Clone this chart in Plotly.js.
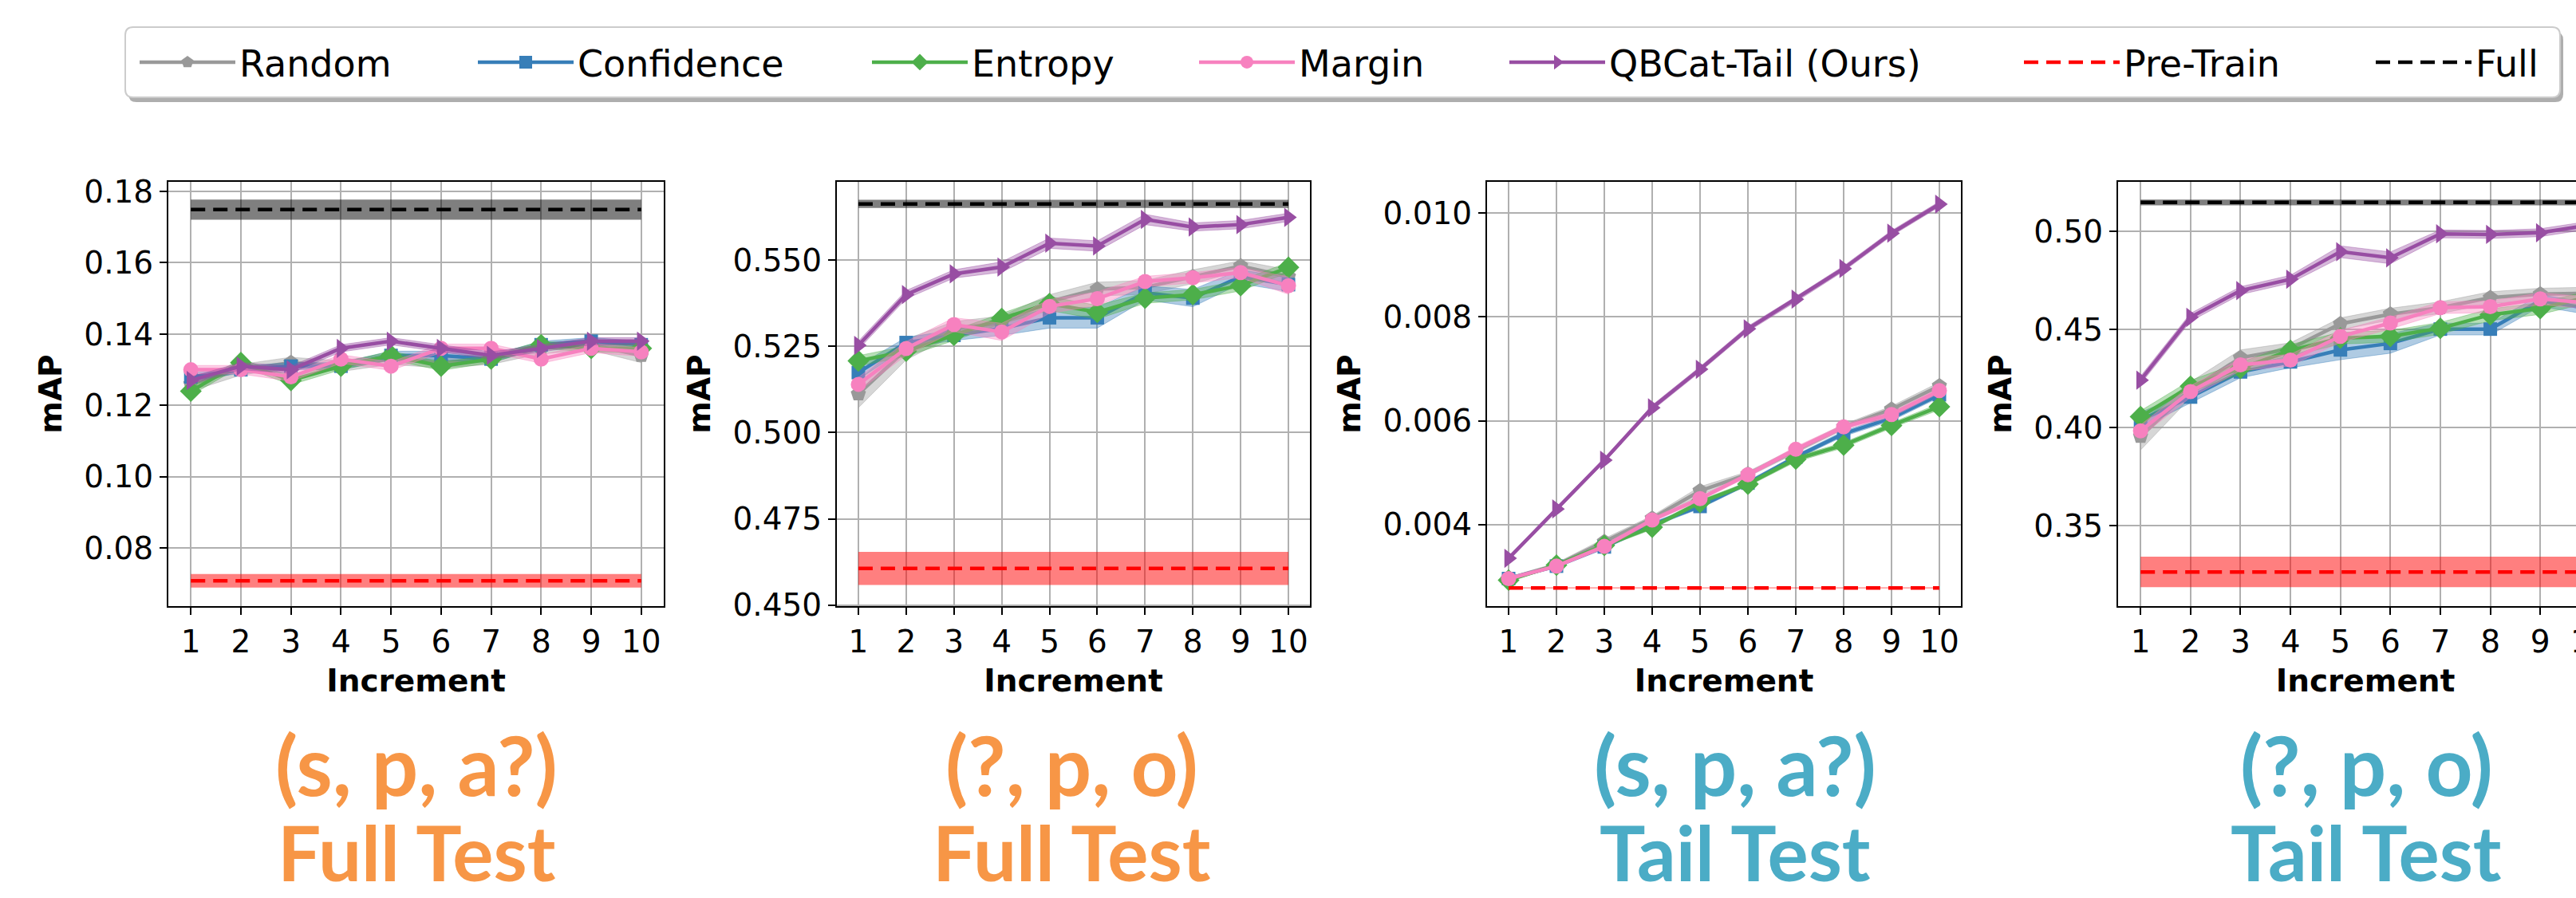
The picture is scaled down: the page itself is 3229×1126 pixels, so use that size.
<!DOCTYPE html>
<html>
<head>
<meta charset="utf-8">
<script src="https://cdn.plot.ly/plotly-3.0.1.min.js"></script>
<style>
html,body{margin:0;padding:0;overflow:hidden;background:#ffffff;}
#chart{width:3300px;height:1126px;}
</style>
</head>
<body>
<div id="chart"></div>
<script>
// ---------------- DATA ----------------
const increments = [1, 2, 3, 4, 5, 6, 7, 8, 9, 10];
const methodNames = ['Random', 'Confidence', 'Entropy', 'Margin', 'QBCat-Tail (Ours)'];
const panelTopLabels = ['(s, p, a?)', '(?, p, o)', '(s, p, a?)', '(?, p, o)'];
const panelBottomLabels = ['Full Test', 'Full Test', 'Tail Test', 'Tail Test'];

// Panel 1: (s, p, a?) Full Test
const p1Random     = [0.126, 0.130, 0.132, 0.131, 0.133, 0.132, 0.133, 0.136, 0.137, 0.134];
const p1Confidence = [0.128, 0.130, 0.131, 0.131, 0.134, 0.134, 0.133, 0.137, 0.138, 0.137];
const p1Entropy    = [0.124, 0.132, 0.127, 0.131, 0.134, 0.131, 0.133, 0.137, 0.136, 0.136];
const p1Margin     = [0.130, 0.130, 0.128, 0.133, 0.131, 0.136, 0.136, 0.133, 0.136, 0.135];
const p1QBCat      = [0.127, 0.131, 0.130, 0.136, 0.138, 0.136, 0.134, 0.136, 0.138, 0.138];
const p1RandomStd     = [0.002, 0.0015, 0.0015, 0.0015, 0.0015, 0.0015, 0.0015, 0.0015, 0.0015, 0.002];
const p1ConfidenceStd = [0.001, 0.001, 0.001, 0.001, 0.0012, 0.0012, 0.001, 0.001, 0.001, 0.001];
const p1EntropyStd    = [0.0012, 0.001, 0.0012, 0.001, 0.0012, 0.0012, 0.001, 0.001, 0.001, 0.0012];
const p1MarginStd     = [0.0012, 0.0012, 0.0012, 0.0012, 0.0012, 0.0012, 0.0012, 0.0012, 0.0012, 0.0012];
const p1QBCatStd      = [0.001, 0.001, 0.001, 0.001, 0.001, 0.001, 0.001, 0.001, 0.001, 0.001];

// Panel 2: (?, p, o) Full Test
const p2Random     = [0.5112, 0.5241, 0.5302, 0.5318, 0.5380, 0.5416, 0.5421, 0.5452, 0.5483, 0.5452];
const p2Confidence = [0.5174, 0.5261, 0.5282, 0.5302, 0.5333, 0.5333, 0.5405, 0.5390, 0.5452, 0.5429];
const p2Entropy    = [0.5208, 0.5236, 0.5282, 0.5331, 0.5374, 0.5349, 0.5390, 0.5400, 0.5426, 0.5479];
const p2Margin     = [0.5140, 0.5244, 0.5313, 0.5292, 0.5366, 0.5388, 0.5438, 0.5449, 0.5464, 0.5426];
const p2QBCat      = [0.5253, 0.5400, 0.5460, 0.5480, 0.5549, 0.5541, 0.5618, 0.5596, 0.5603, 0.5624];
const p2RandomStd     = [0.004, 0.003, 0.002, 0.002, 0.002, 0.002, 0.002, 0.002, 0.0015, 0.002];
const p2ConfidenceStd = [0.002, 0.0015, 0.0015, 0.002, 0.003, 0.003, 0.002, 0.0025, 0.002, 0.002];
const p2EntropyStd    = [0.0015, 0.0015, 0.0015, 0.0015, 0.002, 0.002, 0.0015, 0.0015, 0.0015, 0.0015];
const p2MarginStd     = [0.002, 0.002, 0.002, 0.0025, 0.002, 0.002, 0.0015, 0.0015, 0.0015, 0.0025];
const p2QBCatStd      = [0.0012, 0.0012, 0.0012, 0.0015, 0.0015, 0.0015, 0.0015, 0.0012, 0.0012, 0.0012];

// Panel 3: (s, p, a?) Tail Test
const p3Random     = [0.00296, 0.00322, 0.00367, 0.00412, 0.00465, 0.00497, 0.00543, 0.00588, 0.00622, 0.00667];
const p3Confidence = [0.00296, 0.00320, 0.00357, 0.00400, 0.00435, 0.00480, 0.00530, 0.00575, 0.00605, 0.00650];
const p3Entropy    = [0.00293, 0.00322, 0.00360, 0.00395, 0.00443, 0.00478, 0.00526, 0.00553, 0.00591, 0.00627];
const p3Margin     = [0.00296, 0.00320, 0.00358, 0.00409, 0.00450, 0.00496, 0.00545, 0.00588, 0.00612, 0.00658];
const p3QBCat      = [0.00335, 0.00430, 0.00524, 0.00625, 0.00699, 0.00777, 0.00834, 0.00893, 0.00961, 0.01017];
const p3RandomStd     = [0.00003, 0.00004, 0.00006, 0.00005, 0.00008, 0.00005, 0.00005, 0.00005, 0.00006, 0.00007];
const p3ConfidenceStd = [0.00003, 0.00003, 0.00004, 0.00004, 0.00004, 0.00004, 0.00004, 0.00005, 0.00005, 0.00005];
const p3EntropyStd    = [0.00003, 0.00003, 0.00004, 0.00004, 0.00004, 0.00004, 0.00005, 0.00005, 0.00005, 0.00006];
const p3MarginStd     = [0.00003, 0.00003, 0.00004, 0.00004, 0.00004, 0.00004, 0.00005, 0.00005, 0.00005, 0.00005];
const p3QBCatStd      = [0.00003, 0.00004, 0.00004, 0.00005, 0.00005, 0.00005, 0.00005, 0.00005, 0.00005, 0.00005];

// Panel 4: (?, p, o) Tail Test
const p4Random     = [0.3956, 0.4193, 0.4356, 0.4402, 0.4529, 0.4578, 0.4611, 0.4662, 0.4680, 0.4685];
const p4Confidence = [0.4038, 0.4156, 0.4284, 0.4335, 0.4396, 0.4429, 0.4502, 0.4502, 0.4647, 0.4605];
const p4Entropy    = [0.4056, 0.4211, 0.4302, 0.4393, 0.4456, 0.4465, 0.4506, 0.4575, 0.4607, 0.4668];
const p4Margin     = [0.3984, 0.4184, 0.4320, 0.4344, 0.4465, 0.4533, 0.4611, 0.4616, 0.4656, 0.4635];
const p4QBCat      = [0.4242, 0.4562, 0.4698, 0.4756, 0.4896, 0.4865, 0.4987, 0.4984, 0.4993, 0.5032];
const p4RandomStd     = [0.007, 0.004, 0.004, 0.003, 0.003, 0.003, 0.003, 0.003, 0.003, 0.003];
const p4ConfidenceStd = [0.004, 0.003, 0.003, 0.003, 0.005, 0.005, 0.003, 0.003, 0.003, 0.003];
const p4EntropyStd    = [0.003, 0.003, 0.003, 0.003, 0.003, 0.003, 0.003, 0.003, 0.003, 0.003];
const p4MarginStd     = [0.003, 0.003, 0.003, 0.003, 0.003, 0.003, 0.003, 0.003, 0.003, 0.003];
const p4QBCatStd      = [0.002, 0.002, 0.002, 0.002, 0.003, 0.003, 0.002, 0.002, 0.002, 0.002];

// Baselines per panel
const preTrainMean = [0.0708, 0.4606, 0.00278, 0.3265];
const preTrainStd  = [0.0019, 0.0048, 0.00001, 0.0078];
const fullMean     = [0.1749, 0.5663, null, 0.5147];
const fullStd      = [0.0028, 0.0012, null, 0.0015];

const panelMeans = [
  [p1Random, p1Confidence, p1Entropy, p1Margin, p1QBCat],
  [p2Random, p2Confidence, p2Entropy, p2Margin, p2QBCat],
  [p3Random, p3Confidence, p3Entropy, p3Margin, p3QBCat],
  [p4Random, p4Confidence, p4Entropy, p4Margin, p4QBCat]
];
const panelStds = [
  [p1RandomStd, p1ConfidenceStd, p1EntropyStd, p1MarginStd, p1QBCatStd],
  [p2RandomStd, p2ConfidenceStd, p2EntropyStd, p2MarginStd, p2QBCatStd],
  [p3RandomStd, p3ConfidenceStd, p3EntropyStd, p3MarginStd, p3QBCatStd],
  [p4RandomStd, p4ConfidenceStd, p4EntropyStd, p4MarginStd, p4QBCatStd]
];

// ---------------- STYLE ----------------
const W = 3300, H = 1126;
const methodColors = ['#999999', '#377eb8', '#4daf4a', '#f781bf', '#984ea3'];
const methodBand   = ['rgba(153,153,153,0.4)', 'rgba(55,126,184,0.4)', 'rgba(77,175,74,0.4)', 'rgba(247,129,191,0.4)', 'rgba(152,78,163,0.4)'];
const methodSymbols = ['pentagon', 'square', 'diamond', 'circle', 'triangle-right'];
const methodSizes = [20, 17, 21, 19, 21];
const panelXpx = [[211, 832], [1049, 1642], [1864, 2458], [2655, 3275]];
const panelYpx = [228, 760];
const yRanges = [[0.0637, 0.1827], [0.4497, 0.5727], [0.00243, 0.0106], [0.3091, 0.5252]];
const yDticks = [0.02, 0.025, 0.002, 0.05];
const yFormats = ['.2f', '.3f', '.3f', '.2f'];
const titleCenters = [522, 1343, 2175, 2966];
const titleColors = ['#f79646', '#f79646', '#4bacc6', '#4bacc6'];
const legendLineStart = [170, 594, 1088, 1498, 1887, 2532, 2973];

const px = v => v / W;
const py = v => 1 - v / H;

const traces = [];
const legendIds = ['legend', 'legend2', 'legend3', 'legend4', 'legend5', 'legend6', 'legend7'];

function axes(i) {
  const n = i === 0 ? '' : String(i + 1);
  return { xaxis: 'x' + n, yaxis: 'y' + n };
}

for (let i = 0; i < 4; i++) {
  const ax = axes(i);
  const x0 = increments[0], x1 = increments[increments.length - 1];
  if (fullMean[i] !== null) {
    traces.push(Object.assign({
      type: 'scatter', mode: 'lines', x: [x0, x1, x1, x0],
      y: [fullMean[i] + fullStd[i], fullMean[i] + fullStd[i], fullMean[i] - fullStd[i], fullMean[i] - fullStd[i]],
      fill: 'toself', fillcolor: 'rgba(0,0,0,0.5)', line: { width: 0 }, showlegend: false, hoverinfo: 'skip'
    }, ax));
  }
  traces.push(Object.assign({
    type: 'scatter', mode: 'lines', x: [x0, x1, x1, x0],
    y: [preTrainMean[i] + preTrainStd[i], preTrainMean[i] + preTrainStd[i], preTrainMean[i] - preTrainStd[i], preTrainMean[i] - preTrainStd[i]],
    fill: 'toself', fillcolor: 'rgba(255,0,0,0.5)', line: { width: 0 }, showlegend: false, hoverinfo: 'skip'
  }, ax));

  for (let m = 0; m < methodNames.length; m++) {
    const mean = panelMeans[i][m], sd = panelStds[i][m];
    const upper = mean.map((v, k) => v + sd[k]);
    const lower = mean.map((v, k) => v - sd[k]);
    traces.push(Object.assign({
      type: 'scatter', mode: 'lines',
      x: increments.concat(increments.slice().reverse()),
      y: upper.concat(lower.slice().reverse()),
      fill: 'toself', fillcolor: methodBand[m],
      line: { width: 1, color: methodBand[m] }, showlegend: false, hoverinfo: 'skip'
    }, ax));
    traces.push(Object.assign({
      type: 'scatter', mode: 'lines+markers', name: methodNames[m],
      x: increments, y: mean,
      line: { color: methodColors[m], width: 4.5 },
      marker: { symbol: methodSymbols[m], size: methodSizes[m], color: methodColors[m], line: { width: 0 } },
      showlegend: i === 0, legend: legendIds[m]
    }, ax));
  }
  traces.push(Object.assign({
    type: 'scatter', mode: 'lines', name: 'Pre-Train',
    x: [x0, x1], y: [preTrainMean[i], preTrainMean[i]],
    line: { color: '#ff0000', width: 4.5, dash: '18px,10px' },
    showlegend: i === 0, legend: legendIds[5]
  }, ax));
  if (fullMean[i] !== null) {
    traces.push(Object.assign({
      type: 'scatter', mode: 'lines', name: 'Full',
      x: [x0, x1], y: [fullMean[i], fullMean[i]],
      line: { color: '#000000', width: 4.5, dash: '18px,10px' },
      showlegend: i === 0, legend: legendIds[6]
    }, ax));
  }
}

const tickFont = { family: 'DejaVu Sans', size: 39, color: '#000000' };
const axTitleFont = { family: 'DejaVu Sans', size: 39, color: '#000000', weight: 'bold' };

const layout = {
  width: W, height: H,
  margin: { l: 0, r: 0, t: 0, b: 0, pad: 0 },
  paper_bgcolor: '#ffffff', plot_bgcolor: '#ffffff',
  showlegend: true,
  annotations: [], shapes: []
};

for (let i = 0; i < 4; i++) {
  const n = i === 0 ? '' : String(i + 1);
  const ya = 'y' + n, xa = 'x' + n;
  layout['xaxis' + n] = {
    domain: [px(panelXpx[i][0]), px(panelXpx[i][1])],
    anchor: ya, range: [0.55, 10.45], tick0: 1, dtick: 1,
    showgrid: true, gridcolor: '#b0b0b0', gridwidth: 2, zeroline: false,
    showline: true, linecolor: '#000000', linewidth: 2, mirror: true,
    ticks: 'outside', ticklen: 9, tickwidth: 2, tickcolor: '#000000',
    tickfont: tickFont,
    title: { text: 'Increment', font: axTitleFont, standoff: 14 }
  };
  layout['yaxis' + n] = {
    domain: [py(panelYpx[1]), py(panelYpx[0])],
    anchor: xa, range: yRanges[i], tick0: 0, dtick: yDticks[i], tickformat: yFormats[i],
    showgrid: true, gridcolor: '#b0b0b0', gridwidth: 2, zeroline: false,
    showline: true, linecolor: '#000000', linewidth: 2, mirror: true,
    ticks: 'outside', ticklen: 9, tickwidth: 2, tickcolor: '#000000',
    tickfont: tickFont,
    title: { text: 'mAP', font: axTitleFont, standoff: 16 }
  };
  layout.annotations.push({
    xref: 'paper', yref: 'paper', x: px(titleCenters[i]), y: py(958),
    xanchor: 'center', yanchor: 'middle', showarrow: false,
    text: panelTopLabels[i],
    font: { family: 'Lato', size: 103, color: titleColors[i], weight: 'bold' }
  });
  layout.annotations.push({
    xref: 'paper', yref: 'paper', x: px(titleCenters[i]), y: 0,
    xanchor: 'center', yanchor: 'bottom', showarrow: false, borderpad: 0,
    text: panelBottomLabels[i],
    font: { family: 'Lato', size: 96, color: titleColors[i], weight: 'bold' }
  });
}

for (let k = 0; k < legendIds.length; k++) {
  layout[legendIds[k]] = {
    x: px(legendLineStart[k]), xanchor: 'left',
    y: py(78), yanchor: 'middle',
    orientation: 'h', bgcolor: 'rgba(0,0,0,0)', borderwidth: 0,
    itemwidth: 120,
    font: { family: 'DejaVu Sans', size: 46, color: '#000000' }
  };
}

function roundRect(x0, y0, x1, y1, r) {
  const P = (x, y) => px(x).toFixed(6) + ',' + py(y).toFixed(6);
  return 'M' + P(x0 + r, y0) + ' L' + P(x1 - r, y0) + ' Q' + P(x1, y0) + ' ' + P(x1, y0 + r) +
    ' L' + P(x1, y1 - r) + ' Q' + P(x1, y1) + ' ' + P(x1 - r, y1) +
    ' L' + P(x0 + r, y1) + ' Q' + P(x0, y1) + ' ' + P(x0, y1 - r) +
    ' L' + P(x0, y0 + r) + ' Q' + P(x0, y0) + ' ' + P(x0 + r, y0) + ' Z';
}
layout.shapes.push({ type: 'path', xref: 'paper', yref: 'paper', path: roundRect(161, 40, 3213, 128, 10),
  fillcolor: 'rgba(120,120,120,0.6)', line: { width: 0 }, layer: 'above' });
layout.shapes.push({ type: 'path', xref: 'paper', yref: 'paper', path: roundRect(157, 34, 3209, 122, 10),
  fillcolor: '#ffffff', line: { width: 2, color: '#cccccc' }, layer: 'above' });

Plotly.newPlot('chart', traces, layout, { staticPlot: true, displayModeBar: false });
</script>
</body>
</html>
